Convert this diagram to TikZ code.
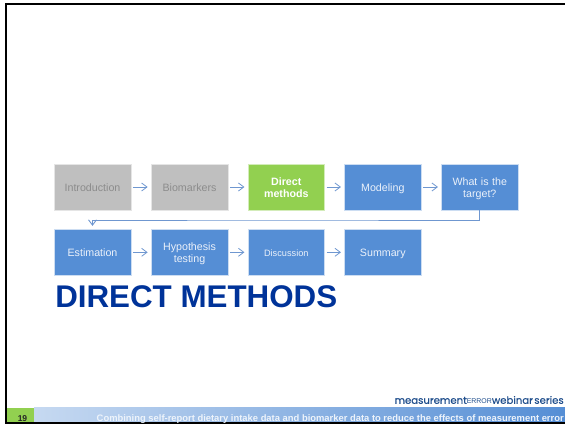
\documentclass[tikz,border=0pt]{standalone}
\usepackage{fontspec}
\setmainfont{Liberation Sans}
\newfontfamily\logofont[FakeBold=0.35]{Poppins}
\usepackage{tikz}
\usetikzlibrary{arrows.meta}
\definecolor{stepblue}{HTML}{558ED5}
\definecolor{stepgray}{HTML}{BFBFBF}
\definecolor{stepgreen}{HTML}{92D050}
\definecolor{titleblue}{HTML}{003399}
\definecolor{linkblue}{HTML}{6F97D0}
\definecolor{logoblue}{HTML}{1F4E8C}
\definecolor{barlight}{HTML}{C6D9F1}

\begin{document}
\begin{tikzpicture}[x=0.75pt,y=-0.75pt,
    stepbox/.style={minimum width=57.6pt,minimum height=34.4pt,inner sep=0pt,align=center,
      text width=52pt,font=\fontsize{8}{8.7}\selectfont,fill=stepblue,text=white!88!stepblue,draw=white!70!stepblue,line width=0.4pt,
      execute at begin node={\rule{0pt}{10.2pt}},execute at end node={\rule[-3.6pt]{0pt}{3.6pt}}},
    donebox/.style={stepbox,fill=stepgray,text=black!45,draw=white!60!stepgray},
    nowbox/.style={stepbox,fill=stepgreen,text=white,draw=white!60!stepgreen,font=\fontsize{8}{8.7}\selectfont\bfseries},
    link/.style={draw=linkblue,line width=0.6pt,-{Straight Barb[length=4pt,width=6pt]},shorten >=2.4pt,shorten <=1.2pt}]
  \useasboundingbox (0,0) rectangle (565,424);
  % Draw frame
  \fill[black] (5,3) rectangle (565,5);
  \fill[black] (5,3) rectangle (7,424);
  % Draw footer bar
  \fill[stepgreen] (7,408) rectangle (34,422.5);
  \shade[left color=barlight,right color=stepblue] (34,408) rectangle (565,422.5);
  \fill[black] (5,422.5) rectangle (565,424);
  \node[font=\fontsize{6.4}{7}\selectfont\bfseries,text=black!85] (pagenum) at (22.5,418.5) {19};
  \node[font=\fontsize{7.05}{8}\selectfont\bfseries,text=white!90!stepblue,anchor=east,inner sep=0pt] (footer) at (564,419) {Combining self-report dietary intake data and biomarker data to reduce the effects of measurement error};
  % Draw first row
  \node[donebox] (intro) at (92.5,187) {Introduction};
  \node[donebox] (biomark) at (189.5,187) {Biomarkers};
  \node[nowbox] (direct) at (286.3,187) {Direct\\methods};
  \node[stepbox] (model) at (382.8,187) {Modeling};
  \node[stepbox] (target) at (479.8,187) {What is the\\target?};
  % Draw second row
  \node[stepbox] (estim) at (92.5,252.3) {Estimation};
  \node[stepbox] (hypo) at (189.5,252.3) {Hypothesis\\testing};
  \node[stepbox,font=\fontsize{6.9}{8}\selectfont] (discuss) at (286.3,252.3) {Discussion};
  \node[stepbox] (summary) at (382.8,252.3) {Summary};
  % Draw arrows
  \draw[link] (intro) -- (biomark);
  \draw[link] (biomark) -- (direct);
  \draw[link] (direct) -- (model);
  \draw[link] (model) -- (target);
  \draw[link] (estim) -- (hypo);
  \draw[link] (hypo) -- (discuss);
  \draw[link] (discuss) -- (summary);
  \draw[link,line width=0.7pt,shorten <=0pt] (target.south) |- (280,220) -| (estim.north);
  % Draw title
  \node[font=\fontsize{23.5}{26}\selectfont\bfseries,text=titleblue,anchor=west,inner sep=0pt] (title) at (55,296.5) {DIRECT METHODS};
  % Draw logo
  \node[anchor=east,inner sep=0pt,text=logoblue,font=\fontsize{7.6}{9}\logofont\selectfont] (logo) at (564,400) {measurement{\fontsize{5.2}{6}\selectfont\rmfamily ERROR}webinar\kern-1pt\ series};
\end{tikzpicture}
\end{document}
